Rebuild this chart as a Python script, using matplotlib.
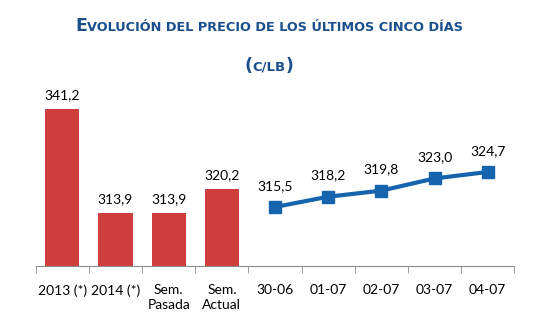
import matplotlib
matplotlib.use('Agg')
import matplotlib.pyplot as plt
import numpy as np

# Data
bar_labels = ['2013 (*)', '2014 (*)', 'Sem.\nPasada', 'Sem.\nActual']
bar_values = [341.2, 313.9, 313.9, 320.2]
day_labels = ['30-06', '01-07', '02-07', '03-07', '04-07']
day_values = [315.5, 318.2, 319.8, 323.0, 324.7]

red = '#CF3E3C'
blue = '#1664AE'
title_blue = '#1B4F8C'

fig = plt.figure(figsize=(5.38, 3.26), dpi=100)
ax = fig.add_axes([0.0664, 0.184, 0.8896, 0.584])

n_bar = len(bar_values)
xb = np.arange(n_bar)
xl = np.arange(n_bar, n_bar + len(day_values))

ax.bar(xb, [v - 300 for v in bar_values], bottom=300, width=0.64, color=red)
ax.plot(xl, day_values, color=blue, lw=3, marker='s', ms=8)

for x, v in zip(xb, bar_values):
    ax.annotate(f'{v:.1f}'.replace('.', ','), (x, v), xytext=(0, 6), textcoords='offset points',
                ha='center', va='bottom', fontsize=10, family='Lato')
for x, v in zip(xl, day_values):
    ax.annotate(f'{v:.1f}'.replace('.', ','), (x, v), xytext=(0, 11), textcoords='offset points',
                ha='center', va='bottom', fontsize=10, family='Lato')

ax.set_xlim(-0.5, n_bar + len(day_values) - 0.5)
ax.set_ylim(300, 350)
ax.set_yticks([])
for s in ['top', 'right', 'left']:
    ax.spines[s].set_visible(False)
ax.spines['bottom'].set_color('#8C8C8C')
ax.set_xticks(np.arange(n_bar + len(day_values)))
ax.set_xticklabels(bar_labels + day_labels, fontsize=10, family='Lato', linespacing=1.3)
ax.tick_params(axis='x', which='major', length=0, pad=13)
ax.set_xticks(np.arange(-0.5, n_bar + len(day_values)), minor=True)
ax.tick_params(axis='x', which='minor', length=5, color='#8C8C8C', direction='out')


# small caps title built from pieces
def small_caps(pieces, y):
    texts = [fig.text(0, y, s, fontsize=sz, fontweight='bold', color=title_blue,
                      family='DejaVu Sans', va='baseline', ha='left') for s, sz in pieces]
    r = fig.canvas.get_renderer()
    widths = [t.get_window_extent(r).width for t in texts]
    W = fig.bbox.width
    x = (W - sum(widths)) / 2
    for t, w in zip(texts, widths):
        t.set_x(x / W)
        x += w


small_caps([('E', 12.5), ('VOLUCIÓN DEL PRECIO DE LOS ÚLTIMOS CINCO DÍAS', 9.3)], 1 - 31 / 326)
small_caps([('(', 12.5), ('C/LB', 9.5), (')', 12.5)], 1 - 71 / 326)

fig.savefig('out.png', dpi=100)
